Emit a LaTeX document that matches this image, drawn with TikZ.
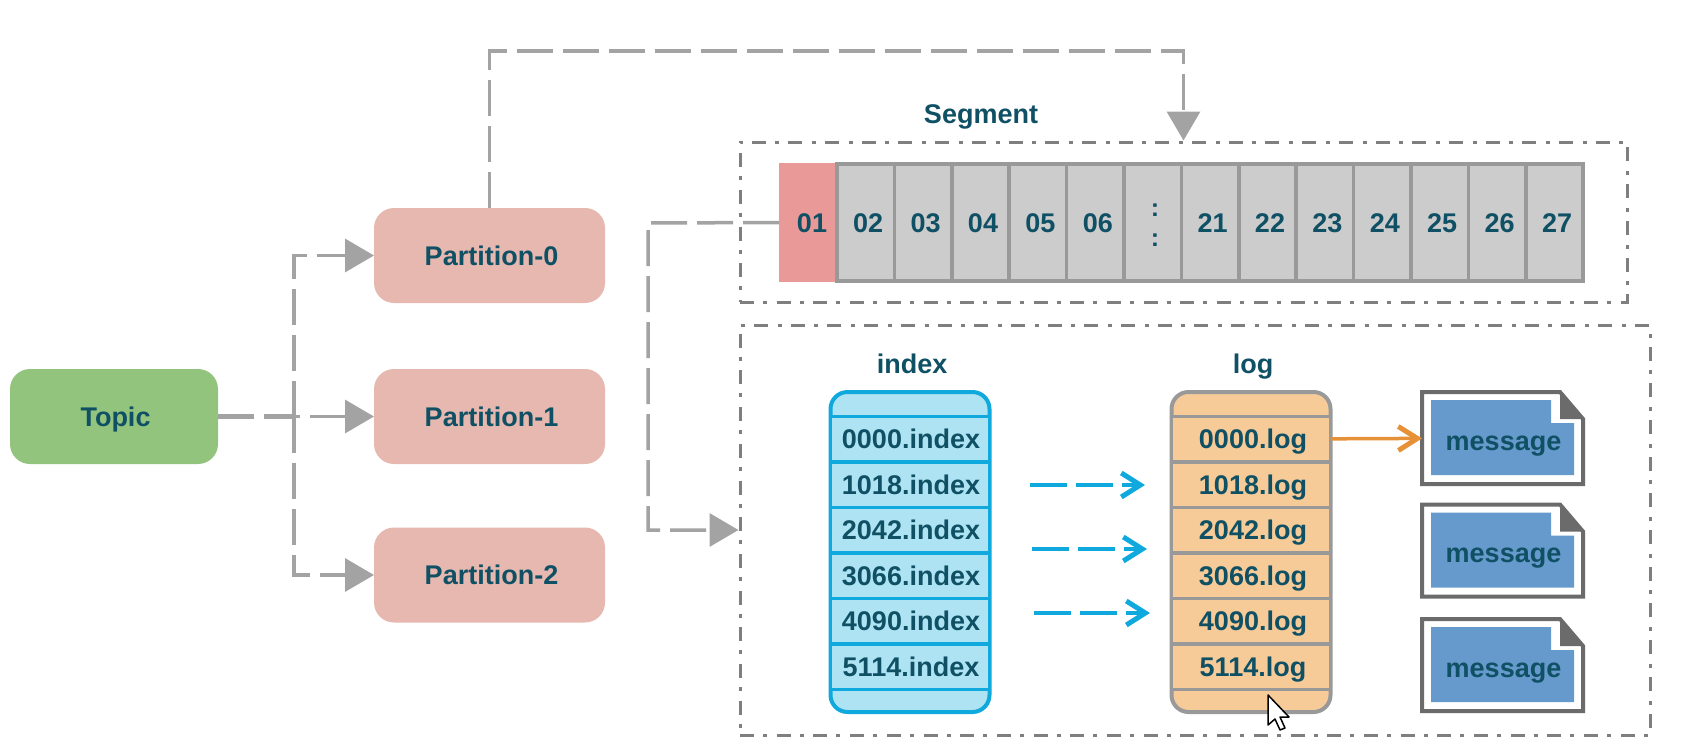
\documentclass[tikz,border=0pt]{standalone}
\usepackage{fontspec}
\setmainfont{Liberation Sans}
\usepackage{tikz}
\usetikzlibrary{arrows.meta,positioning}
\definecolor{ink}{HTML}{0F5064}
\definecolor{wirecol}{HTML}{A3A3A3}
\definecolor{framecol}{HTML}{7F7F7F}
\definecolor{topicfill}{HTML}{93C47D}
\definecolor{partfill}{HTML}{E6B8AF}
\definecolor{cellfill}{HTML}{CCCCCC}
\definecolor{cellline}{HTML}{999999}
\definecolor{firstfill}{HTML}{EA9999}
\definecolor{indexfill}{HTML}{AEE3F3}
\definecolor{indexline}{HTML}{0FA9DE}
\definecolor{logfill}{HTML}{F7CB98}
\definecolor{msgfill}{HTML}{6699CC}
\definecolor{msgline}{HTML}{6B6B6B}
\definecolor{orangeline}{HTML}{E69138}
\pgfdeclarelayer{edgelayer}
\pgfsetlayers{edgelayer,main}
\tikzset{font=\fontsize{27}{30}\selectfont\bfseries}
\tikzset{nudge/.style={execute at begin node={\hspace{#1}}}}
\tikzstyle{lbl}=[text=ink,inner sep=0pt,outer sep=0pt,text height=25.4pt,text depth=6pt]
\tikzstyle{topicbox}=[lbl,nudge=3pt,fill=topicfill,rounded corners=20pt,minimum width=208pt,minimum height=95pt]
\tikzstyle{partbox}=[lbl,nudge=4pt,fill=partfill,rounded corners=20pt,minimum width=231pt,minimum height=95pt]
\tikzstyle{cell}=[lbl,nudge=5pt,fill=cellfill,draw=cellline,line width=3.5pt,minimum width=57.4pt,minimum height=117pt]
\tikzstyle{emptycell}=[fill=cellfill,draw=cellline,line width=3.5pt,minimum width=57.4pt,minimum height=117pt]
\tikzstyle{dots}=[text=ink,inner sep=0pt,align=center,font=\fontsize{25}{30}\selectfont\bfseries]
\tikzstyle{firstcell}=[lbl,nudge=8pt,fill=firstfill,minimum width=58pt,minimum height=119pt]
\tikzstyle{frame}=[draw=framecol,line width=3pt,inner sep=0pt,dash pattern=on 14pt off 9pt on 4pt off 9.7pt]
\tikzstyle{stackI}=[fill=indexfill,draw=indexline,line width=4pt,rounded corners=17pt,minimum width=159pt,minimum height=320pt]
\tikzstyle{stackL}=[fill=logfill,draw=cellline,line width=4pt,rounded corners=17pt,minimum width=159pt,minimum height=320pt]
\tikzstyle{rowI}=[lbl,nudge=2pt,fill=indexfill,draw=indexline,line width=3.5pt,minimum width=159pt,minimum height=45.5pt]
\tikzstyle{rowL}=[lbl,nudge=4pt,fill=logfill,draw=cellline,line width=3.5pt,minimum width=159pt,minimum height=45.5pt]
\tikzstyle{msg}=[lbl,nudge=2pt,text height=30pt,minimum width=161pt,minimum height=92pt]
\tikzstyle{wire}=[draw=wirecol,line width=3.5pt,dash pattern=on 36pt off 10pt,-{Triangle[length=29pt,width=33pt]}]
\tikzstyle{bluewire}=[draw=indexline,line width=3.5pt,dash pattern=on 37pt off 9pt,-{Straight Barb[length=19pt,width=24pt,line width=5pt]}]
\newcommand{\msgdoc}[1]{
\begin{pgfonlayer}{edgelayer}
\draw[draw=msgline,line width=4pt,fill=white,line join=miter] (#1.north west) -- ++(138,0) -- ++(23,27) -- ++(0,65) -- ++(-161,0) -- cycle;
\fill[msgline] (#1.north west) ++(138,0) -- ++(23,27) -- ++(-23,0) -- cycle;
\fill[msgfill] (#1.north west) ++(9,8) -- ++(120,0) -- ++(0,23) -- ++(23,0) -- ++(0,52) -- ++(-143,0) -- cycle;
\end{pgfonlayer}
}

\begin{document}
\begin{tikzpicture}[x=1pt,y=-1pt]
\useasboundingbox (0,0) rectangle (1703,753);
\node (T) [topicbox] at (114,416.5) {Topic};
\node (P0) [partbox] at (489.5,255.5) {Partition-0};
\node (P1) [partbox] at (489.5,416.5) {Partition-1};
\node (P2) [partbox] at (489.5,575) {Partition-2};
\node (Seg) [lbl] at (981,114) {Segment};
\node (S) [frame,minimum width=887pt,minimum height=160pt] at (1183.5,222) {};
\node (B) [frame,minimum width=910pt,minimum height=410pt] at (1195,530) {};
\node (C1) [firstcell] at (808,222.5) {01};
\node (C2) [cell] at (865.7,222.5) {02};
\node (C3) [cell] at (923.1,222.5) {03};
\node (C4) [cell] at (980.5,222.5) {04};
\node (C5) [cell] at (1037.9,222.5) {05};
\node (C6) [cell] at (1095.3,222.5) {06};
\node (C7) [emptycell] at (1152.7,222.5) {};
\node (Dt) [dots] at (1155,225) {:\\:};
\node (C8) [cell] at (1210.1,222.5) {21};
\node (C9) [cell] at (1267.5,222.5) {22};
\node (C10) [cell] at (1324.9,222.5) {23};
\node (C11) [cell] at (1382.3,222.5) {24};
\node (C12) [cell] at (1439.7,222.5) {25};
\node (C13) [cell] at (1497.1,222.5) {26};
\node (C14) [cell] at (1554.5,222.5) {27};
\node (Ih) [lbl] at (912,364) {index};
\node (Lh) [lbl] at (1253,364) {log};
\node (I) [stackI] at (910,552) {};
\node (I0) [rowI] at (910,439.2) {0000.index};
\node (I1) [rowI] at (910,484.7) {1018.index};
\node (I2) [rowI] at (910,530.2) {2042.index};
\node (I3) [rowI] at (910,575.7) {3066.index};
\node (I4) [rowI] at (910,621.2) {4090.index};
\node (I5) [rowI] at (910,666.7) {5114.index};
\node (L) [stackL] at (1251,552) {};
\node (L0) [rowL] at (1251,439.2) {0000.log};
\node (L1) [rowL] at (1251,484.7) {1018.log};
\node (L2) [rowL] at (1251,530.2) {2042.log};
\node (L3) [rowL] at (1251,575.7) {3066.log};
\node (L4) [rowL] at (1251,621.2) {4090.log};
\node (L5) [rowL] at (1251,666.7) {5114.log};
\node (M0) [msg] at (1502.5,438) {message};
\node (M1) [msg] at (1502.5,550.5) {message};
\node (M2) [msg] at (1502.5,665) {message};
\msgdoc{M0}
\msgdoc{M1}
\msgdoc{M2}
\coordinate (J) at (294,416.5);
\coordinate (Up) at (1183.5,51);
\coordinate (Dn) at (648,223);
\coordinate (A1) at (1030,485);
\coordinate (A2) at (1145,485);
\coordinate (A3) at (1032,549);
\coordinate (A4) at (1147,549);
\coordinate (A5) at (1034,613);
\coordinate (A6) at (1150,613);
\draw[wire] (J) |- (P0);
\draw[wire] (J) |- (P2);
\draw[wire] (T) -- (P1);
\draw[draw=wirecol,line width=5.5pt,dash pattern=on 36pt off 10pt] (T) -- (J);
\draw[wire] (P0.north) |- (Up) -- (S.north);
\draw[wire] (C1.west) -- (Dn) |- (B.west);
\draw[bluewire] (A1) -- (A2);
\draw[bluewire] (A3) -- (A4);
\draw[bluewire] (A5) -- (A6);
\draw[draw=orangeline,line width=3.5pt,-{Straight Barb[length=19pt,width=24pt,line width=5pt]}] (L0) -- (M0);
\draw[fill=white,draw=black,line width=1.5pt,line join=round] (1268,695) -- ++(0,30) -- ++(7,-6) -- ++(5,11) -- ++(5,-2) -- ++(-5,-11) -- ++(9,0) -- cycle;
\end{tikzpicture}
\end{document}
